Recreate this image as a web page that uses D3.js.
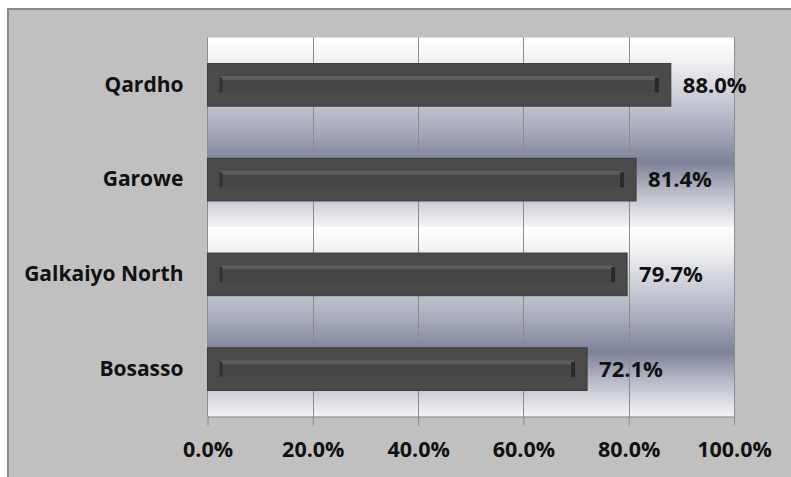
<!DOCTYPE html>
<html>
<head>
<meta charset="utf-8">
<script src="https://cdn.jsdelivr.net/npm/d3@7"></script>
<style>
  html, body { margin: 0; padding: 0; background: #ffffff; }
  svg { display: block; }
</style>
</head>
<body>
<svg id="chart" width="791" height="477"></svg>
<script>
// ---- data ----
const categories = ["Qardho", "Garowe", "Galkaiyo North", "Bosasso"];
const values = [0.880, 0.814, 0.797, 0.721];
const tickValues = [0, 0.2, 0.4, 0.6, 0.8, 1.0];

// ---- layout ----
const W = 791, H = 477;
const plot = { left: 207.5, right: 734, top: 37.5, bottom: 416.5 };
const FONT = "'Open Sans', 'DejaVu Sans', sans-serif";

const svg = d3.select("#chart");
const defs = svg.append("defs");

// background gradient of plot area (repeats twice over the plot height)
const half = (plot.bottom - plot.top) / 2;
const bg = defs.append("linearGradient")
  .attr("id", "bgGrad")
  .attr("gradientUnits", "userSpaceOnUse")
  .attr("x1", 0).attr("x2", 0)
  .attr("y1", plot.top).attr("y2", plot.top + half)
  .attr("spreadMethod", "repeat");
[[0, "#ffffff"], [0.12, "#f2f2f4"], [0.3, "#cdd0d9"], [0.5, "#a4a8b9"], [0.66, "#7d8298"], [0.8, "#b3b6c4"], [0.92, "#dcdde3"], [1, "#f4f4f6"]]
  .forEach(([o, c]) => bg.append("stop").attr("offset", o).attr("stop-color", c));

// outer chart area
svg.append("rect").attr("x", 0).attr("y", 0).attr("width", W).attr("height", H).attr("fill", "#ffffff");
svg.append("rect")
  .attr("x", 8).attr("y", 9).attr("width", W + 10).attr("height", H + 10)
  .attr("fill", "#c0c0c0").attr("stroke", "#8a8a8a").attr("stroke-width", 2);

// scales
const x = d3.scaleLinear().domain([0, 1]).range([plot.left, plot.right]);
const y = d3.scaleBand().domain(categories).range([plot.top, plot.bottom])
  .paddingInner(0.55).paddingOuter(0.275);

// plot background
svg.append("rect")
  .attr("x", plot.left).attr("y", plot.top)
  .attr("width", plot.right - plot.left).attr("height", plot.bottom - plot.top)
  .attr("fill", "url(#bgGrad)");

// gridlines
svg.append("g").selectAll("line").data(tickValues.slice(1)).join("line")
  .attr("x1", d => Math.round(x(d)) + 0.5).attr("x2", d => Math.round(x(d)) + 0.5)
  .attr("y1", plot.top).attr("y2", plot.bottom)
  .attr("stroke", "#8c8c8c").attr("stroke-width", 1);

// x axis
const xAxis = d3.axisBottom(x).tickValues(tickValues).tickFormat(d3.format(".1%"))
  .tickSizeInner(9).tickSizeOuter(0).tickPadding(16);
const gx = svg.append("g").attr("transform", `translate(0,${plot.bottom})`).call(xAxis);
gx.select(".domain").attr("stroke", "#8c8c8c");
gx.selectAll(".tick line").attr("stroke", "#8c8c8c");
gx.selectAll(".tick text")
  .attr("fill", "#111").attr("font-family", FONT).attr("font-weight", 700)
  .attr("font-size", "21.5px").attr("dy", "0.71em");

// y axis line
svg.append("line")
  .attr("x1", plot.left).attr("x2", plot.left)
  .attr("y1", plot.top).attr("y2", plot.bottom)
  .attr("stroke", "#8c8c8c");

// category labels
const yAxis = d3.axisLeft(y).tickSize(0).tickPadding(24);
const gy = svg.append("g").attr("transform", `translate(${plot.left},0)`).call(yAxis);
gy.select(".domain").remove();
gy.selectAll(".tick text")
  .attr("fill", "#111").attr("font-family", FONT).attr("font-weight", 700)
  .attr("font-size", "21px");

// bars
const data = categories.map((c, i) => ({ c, v: values[i] }));
const bars = svg.append("g").selectAll("g").data(data).join("g");

bars.append("rect")
  .attr("x", x(0)).attr("y", d => y(d.c))
  .attr("width", d => x(d.v) - x(0)).attr("height", y.bandwidth())
  .attr("fill", "#4a4a4a").attr("stroke", "#3c3c3c").attr("stroke-width", 1);

// inner highlight stripe
bars.append("rect")
  .attr("x", x(0) + 13).attr("y", d => y(d.c) + 12.5)
  .attr("width", d => x(d.v) - x(0) - 26).attr("height", 4)
  .attr("fill", "#5e5e5e");
bars.append("rect")
  .attr("x", x(0) + 13).attr("y", d => y(d.c) + 16.5)
  .attr("width", d => x(d.v) - x(0) - 26).attr("height", 12)
  .attr("fill", "#464646");
// end caps
bars.append("rect")
  .attr("x", x(0) + 12).attr("y", d => y(d.c) + 14)
  .attr("width", 3).attr("height", 15)
  .attr("fill", "#323232");
bars.append("rect")
  .attr("x", d => x(d.v) - 16).attr("y", d => y(d.c) + 14)
  .attr("width", 4).attr("height", 15)
  .attr("fill", "#2a2a2a");

// value labels
bars.append("text")
  .attr("x", d => x(d.v) + 12)
  .attr("y", d => y(d.c) + y.bandwidth() / 2)
  .attr("dy", "0.35em")
  .attr("fill", "#111").attr("font-family", FONT).attr("font-weight", 700)
  .attr("font-size", "22px")
  .text(d => d3.format(".1%")(d.v));
</script>
</body>
</html>
